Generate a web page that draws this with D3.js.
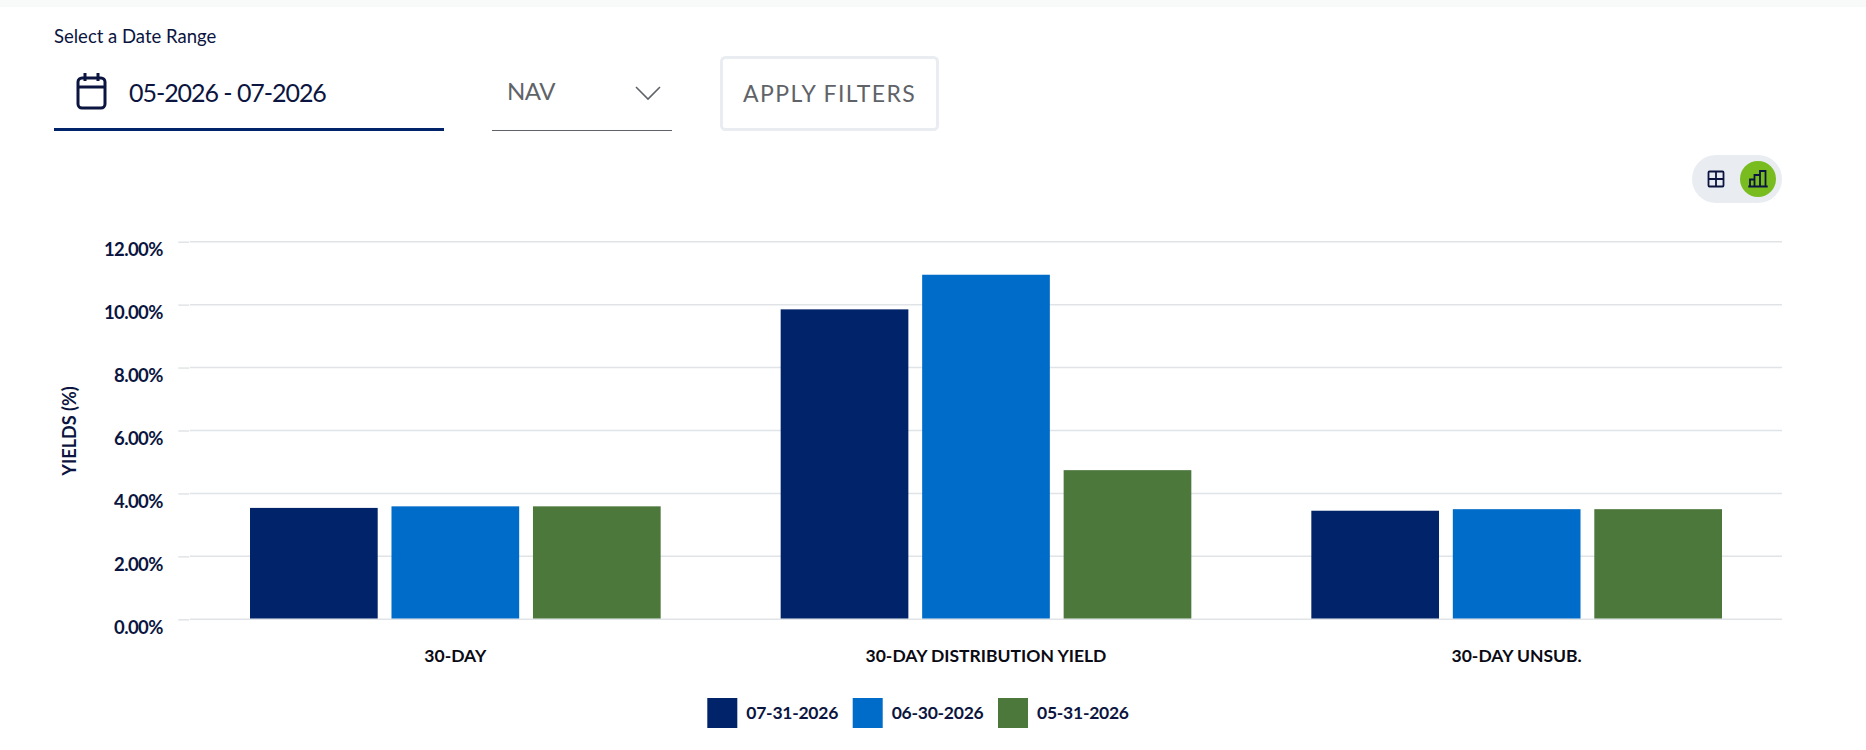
<!DOCTYPE html>
<html>
<head>
<meta charset="utf-8">
<script src="https://cdn.jsdelivr.net/npm/d3@7"></script>
<style>
html, body { margin: 0; padding: 0; background: #fff; }
svg { display: block; font-family: Lato, sans-serif; }
</style>
</head>
<body>
<svg id="chart" width="1866" height="750"></svg>
<script>
var categories = ["30-DAY", "30-DAY DISTRIBUTION YIELD", "30-DAY UNSUB."];
var seriesNames = ["07-31-2026", "06-30-2026", "05-31-2026"];
var seriesColors = ["#002369", "#006cc9", "#4c783c"];
var values0731 = [3.54, 9.85, 3.45];
var values0630 = [3.59, 10.95, 3.50];
var values0531 = [3.59, 4.74, 3.50];
var seriesValues = [values0731, values0630, values0531];
var yTicks = [0, 2, 4, 6, 8, 10, 12];

var ink = "#0b1540", grey = "#5f6368", gridCol = "#e0e4e6";
var svg = d3.select("#chart");

// top shadow strip
svg.append("rect").attr("width", 1866).attr("height", 7).attr("fill", "#f8f9f9");

// --- filter bar ---
svg.append("text").attr("x", 54).attr("y", 43).attr("font-size", 18.5).attr("fill", ink).text("Select a Date Range");

var cal = svg.append("g").attr("fill", "none").attr("stroke", ink).attr("stroke-width", 3);
cal.append("rect").attr("x", 78).attr("y", 78).attr("width", 27).attr("height", 30).attr("rx", 4);
cal.append("path").attr("d", "M78 87H105M85 73V81M98 73V81");

svg.append("text").attr("x", 129).attr("y", 102).attr("font-size", 25).attr("letter-spacing", -1.05).attr("fill", ink).text("05-2026 - 07-2026");
svg.append("rect").attr("x", 54).attr("y", 128).attr("width", 390).attr("height", 3).attr("fill", "#002369");

svg.append("text").attr("x", 507).attr("y", 99.5).attr("font-size", 24).attr("letter-spacing", -0.5).attr("fill", grey).text("NAV");
svg.append("path").attr("d", "M636 87L648 99L660 87").attr("fill", "none").attr("stroke", grey).attr("stroke-width", 1.6);
svg.append("rect").attr("x", 492).attr("y", 130).attr("width", 180).attr("height", 1).attr("fill", grey);

svg.append("rect").attr("x", 721.5).attr("y", 57.5).attr("width", 216).attr("height", 72).attr("rx", 4)
    .attr("fill", "#fff").attr("stroke", "#e9ecf1").attr("stroke-width", 3);
svg.append("text").attr("x", 743).attr("y", 102).attr("font-size", 23).attr("letter-spacing", 1.4).attr("fill", grey).text("APPLY FILTERS");

// --- table / chart toggle ---
svg.append("rect").attr("x", 1692).attr("y", 155).attr("width", 90).attr("height", 48).attr("rx", 24).attr("fill", "#e9ecf1");
var tbl = svg.append("g").attr("fill", "none").attr("stroke", ink).attr("stroke-width", 1.8);
tbl.append("rect").attr("x", 1708.5).attr("y", 171.5).attr("width", 15).attr("height", 15).attr("rx", 1);
tbl.append("path").attr("d", "M1716 171.5V186.5M1708.5 179H1723.5");
svg.append("circle").attr("cx", 1758).attr("cy", 179).attr("r", 18).attr("fill", "#78bc20");
var barIcon = svg.append("g").attr("fill", "none").attr("stroke", ink).attr("stroke-width", 1.8);
barIcon.append("path").attr("d", "M1750 186V179.5H1754.5V186M1754.5 186V175H1760V186M1760 186V171H1765.5V186M1748.3 186.5H1767.7");

// --- chart ---
var x0 = d3.scaleBand().domain(categories).range([190, 1782]);
var x1 = d3.scaleBand().domain(d3.range(seriesNames.length)).range([60, x0.bandwidth() - 60])
    .paddingInner(0.0975);
var y = d3.scaleLinear().domain([0, 12]).range([619.3, 241.7]);

var yAxis = d3.axisLeft(y).tickValues(yTicks).tickSize(11).tickPadding(15.5)
    .tickFormat(function(d) { return d3.format(".2f")(d) + "%"; });

// gridlines
svg.append("g").selectAll("line").data(yTicks).join("line")
    .attr("x1", 190).attr("x2", 1782)
    .attr("y1", function(d) { return y(d); }).attr("y2", function(d) { return y(d); })
    .attr("stroke", gridCol).attr("stroke-width", 1.5);

var yG = svg.append("g").attr("transform", "translate(189.3,0)").call(yAxis);
yG.select(".domain").remove();
yG.selectAll(".tick line").attr("stroke", gridCol).attr("stroke-width", 1.5);
yG.selectAll(".tick text").attr("y", 8).attr("fill", ink).attr("font-size", 18.5).attr("font-weight", 700)
    .attr("letter-spacing", -0.6).attr("font-family", "Lato");

svg.append("text")
    .attr("transform", "translate(76,431) rotate(-90)")
    .attr("text-anchor", "middle").attr("font-size", 18).attr("font-weight", 700).attr("fill", ink)
    .text("YIELDS (%)");

// bars
svg.append("g").selectAll("g").data(seriesValues).join("g")
    .attr("fill", function(d, i) { return seriesColors[i]; })
    .each(function(vals, i) {
        d3.select(this).selectAll("rect").data(vals).join("rect")
            .attr("x", function(d, j) { return x0(categories[j]) + x1(i); })
            .attr("width", x1.bandwidth())
            .attr("y", function(d) { return y(d); })
            .attr("height", function(d) { return y(0) - y(d) - 0.8; });
    });

// category labels
var xAxis = d3.axisBottom(x0).tickSize(0).tickPadding(30.6);
var xG = svg.append("g").attr("transform", "translate(0,619.3)").call(xAxis);
xG.select(".domain").remove();
xG.selectAll(".tick text").attr("fill", "#0a0a14").attr("font-size", 17.5).attr("font-weight", 700).attr("font-family", "Lato");

// legend
var legendX = [707.3, 852.7, 998];
var legend = svg.append("g").selectAll("g").data(seriesNames).join("g")
    .attr("transform", function(d, i) { return "translate(" + legendX[i] + ",698)"; });
legend.append("rect").attr("width", 30).attr("height", 30).attr("fill", function(d, i) { return seriesColors[i]; });
legend.append("text").attr("x", 39).attr("y", 21).attr("font-size", 17.5).attr("font-weight", 700)
    .attr("letter-spacing", -0.25).attr("fill", ink)
    .text(function(d) { return d; });
</script>
</body>
</html>
